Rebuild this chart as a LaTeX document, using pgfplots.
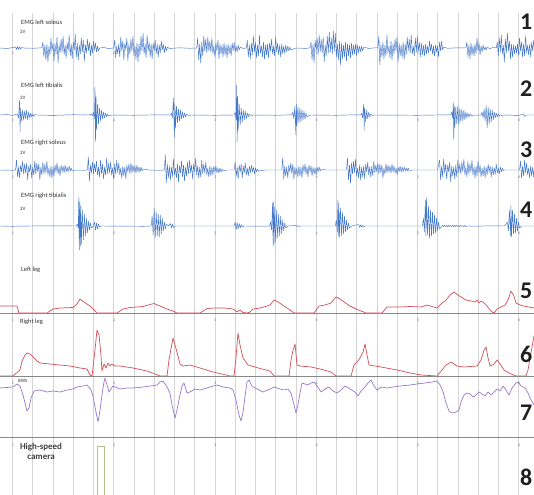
\documentclass[border=0pt]{standalone}
\usepackage{pgfplots}
\pgfplotsset{compat=1.18}
\usepackage{fontspec}
\setmainfont{Carlito}
\definecolor{emg}{RGB}{68,120,200}
\definecolor{legred}{RGB}{212,78,88}
\definecolor{bws}{RGB}{150,122,205}
\definecolor{cam}{RGB}{185,188,140}
\definecolor{sep}{RGB}{135,135,135}
\definecolor{gridc}{RGB}{212,212,212}
\tikzset{tln/.style={font=\fontsize{4}{4}\selectfont, text=black!55, inner sep=0pt},
  lab/.style={font=\fontsize{6.5}{7}\selectfont, text=black!80, anchor=west, inner sep=0pt},
  lab2/.style={font=\fontsize{5}{6}\selectfont, text=black!80, anchor=west, inner sep=0pt},
  big/.style={font=\fontsize{24}{24}\selectfont\bfseries, text=black!88, anchor=base west, inner sep=0pt}}
\newcommand{\tlrow}[1]{%
  \node[tln] at (axis cs:1.005,#1) {1};
  \node[tln] at (axis cs:2.005,#1) {2};
  \node[tln] at (axis cs:3.005,#1) {3};
  \node[tln] at (axis cs:4.005,#1) {4};
  \node[tln] at (axis cs:5.005,#1) {5};
  \node[tln] at (axis cs:6.005,#1) {6};}
\begin{document}
\begin{tikzpicture}
\begin{axis}[
  at={(0,0)}, anchor=south west,
  scale only axis, width=534bp, height=482bp,
  xmin=0.8765, xmax=6.153, ymin=13, ymax=495, y dir=reverse,
  axis line style={draw=none}, tick style={draw=none},
  xtick={1,2,3,4,5,6}, minor x tick num=4, xticklabels={}, ytick=\empty,
  xmajorgrids, xminorgrids,
  major grid style={gridc, line width=0.5bp},
  minor grid style={gridc, line width=0.5bp},
]
% ---------- EMG left soleus (panel 1) ----------
\addplot[emg, line width=0.45bp, line join=round] coordinates {
(0.876,48) (0.95,48.5) (1.03,47) (1.04,49.5) (1.05,46.5) (1.06,49.5) (1.07,46.8) (1.08,49) (1.09,47.5) (1.11,48) (1.20,48.3) (1.29,47.8)
(1.30,42) (1.31,57) (1.32,45) (1.33,60) (1.34,44) (1.35,62) (1.36,46) (1.37,55) (1.38,38) (1.39,51) (1.40,43) (1.41,61) (1.42,44) (1.43,54) (1.44,37) (1.45,63) (1.46,45) (1.47,53) (1.48,39) (1.49,52) (1.50,36) (1.51,55) (1.52,45) (1.53,58) (1.54,43) (1.55,51) (1.56,35) (1.57,56) (1.58,44) (1.59,59) (1.60,42) (1.61,50) (1.62,34) (1.63,57) (1.64,43) (1.65,60) (1.66,45) (1.67,54) (1.68,38) (1.69,52) (1.70,40) (1.71,61) (1.72,45) (1.73,53) (1.74,39) (1.75,51) (1.76,42) (1.77,56) (1.78,45) (1.79,53) (1.80,41) (1.81,50) (1.82,43) (1.83,52) (1.84,46) (1.85,51) (1.86,48)
(1.90,47.5) (1.95,48.5) (2.00,48)
(2.01,40) (2.02,58) (2.03,46) (2.04,54) (2.05,44) (2.06,57) (2.07,37) (2.08,51) (2.09,41) (2.10,60) (2.11,43) (2.12,50) (2.13,38) (2.14,61) (2.15,44) (2.16,54) (2.17,39) (2.18,51) (2.19,36) (2.20,56) (2.21,46) (2.22,59) (2.23,43) (2.24,62) (2.25,44) (2.26,55) (2.27,36) (2.28,51) (2.29,33) (2.30,54) (2.31,44) (2.32,58) (2.33,35) (2.34,51) (2.35,42) (2.36,57) (2.37,44) (2.38,59) (2.39,43) (2.40,51) (2.41,40) (2.42,54) (2.43,44) (2.44,57) (2.45,45) (2.46,53) (2.47,41) (2.48,50) (2.49,44) (2.50,53) (2.51,46) (2.52,51) (2.53,47)
(2.55,48.5) (2.65,47.8) (2.75,48.3) (2.82,48)
(2.83,38) (2.84,60) (2.85,44) (2.86,63) (2.87,42) (2.88,56) (2.89,36) (2.90,51) (2.91,39) (2.92,53) (2.93,37) (2.94,51) (2.95,41) (2.96,52) (2.97,38) (2.98,54) (2.99,46) (3.00,57) (3.01,43) (3.02,51) (3.03,40) (3.04,59) (3.05,44) (3.06,54) (3.07,45) (3.08,57) (3.09,43) (3.10,55) (3.11,45) (3.12,58) (3.13,44) (3.14,54) (3.15,46) (3.16,56) (3.17,43) (3.18,51) (3.19,42) (3.20,52) (3.21,46) (3.22,52) (3.23,45) (3.24,50) (3.25,47)
(3.28,48.5) (3.31,48)
(3.32,40) (3.33,57) (3.34,45) (3.35,59) (3.36,43) (3.37,55) (3.38,36) (3.39,52) (3.40,42) (3.41,58) (3.42,45) (3.43,56) (3.44,35) (3.45,53) (3.46,46) (3.47,57) (3.48,42) (3.49,59) (3.50,45) (3.51,55) (3.52,44) (3.53,58) (3.54,43) (3.55,51) (3.56,39) (3.57,54) (3.58,46) (3.59,56) (3.60,37) (3.61,52) (3.62,43) (3.63,55) (3.64,45) (3.65,57) (3.66,44) (3.67,54) (3.68,46) (3.69,53) (3.70,45) (3.71,52) (3.72,46) (3.73,51) (3.74,47) (3.75,50)
(3.80,48) (3.90,48.4) (3.94,47.8)
(3.95,42) (3.96,60) (3.97,44) (3.98,63) (3.99,40) (4.00,51) (4.01,38) (4.02,55) (4.03,35) (4.04,52) (4.05,39) (4.06,53) (4.07,37) (4.08,62) (4.09,45) (4.10,56) (4.11,36) (4.12,53) (4.13,32) (4.14,52) (4.15,38) (4.16,54) (4.17,31) (4.18,51) (4.19,33) (4.20,57) (4.21,44) (4.22,60) (4.23,41) (4.24,65) (4.25,43) (4.26,59) (4.27,45) (4.28,57) (4.29,42) (4.30,61) (4.31,44) (4.32,56) (4.33,45) (4.34,58) (4.35,43) (4.36,55) (4.37,45) (4.38,54) (4.39,44) (4.40,56) (4.41,45) (4.42,53) (4.43,46) (4.44,52) (4.45,46) (4.46,51) (4.47,47)
(4.52,48.5) (4.58,47.8) (4.61,48)
(4.62,36) (4.63,65) (4.64,44) (4.65,57) (4.66,42) (4.67,59) (4.68,45) (4.69,56) (4.70,35) (4.71,53) (4.72,46) (4.73,58) (4.74,41) (4.75,60) (4.76,44) (4.77,54) (4.78,39) (4.79,51) (4.80,37) (4.81,62) (4.82,43) (4.83,56) (4.84,45) (4.85,58) (4.86,42) (4.87,60) (4.88,44) (4.89,55) (4.90,37) (4.91,51) (4.92,39) (4.93,53) (4.94,35) (4.95,54) (4.96,46) (4.97,56) (4.98,38) (4.99,52) (5.00,36) (5.01,51) (5.02,42) (5.03,57) (5.04,43) (5.05,55) (5.06,45) (5.07,56) (5.08,44) (5.09,54) (5.10,46) (5.11,53) (5.12,41) (5.13,51) (5.14,44) (5.15,54) (5.16,46) (5.17,56) (5.18,45) (5.19,52) (5.20,46) (5.21,57) (5.22,42) (5.23,51) (5.24,41) (5.25,50) (5.26,47)
(5.30,48.3) (5.40,47.8) (5.48,48)
(5.49,42) (5.50,57) (5.51,45) (5.52,59) (5.53,43) (5.54,55) (5.55,46) (5.56,56) (5.57,44) (5.58,54) (5.59,38) (5.60,51) (5.61,43) (5.62,55) (5.63,46) (5.64,52) (5.65,45) (5.66,50) (5.67,47) (5.68,50) (5.69,47)
(5.72,49) (5.75,47) (5.78,48)
(5.79,42) (5.80,56) (5.81,38) (5.82,52) (5.83,35) (5.84,54) (5.85,45) (5.86,62) (5.87,39) (5.88,53) (5.89,33) (5.90,51) (5.91,41) (5.92,59) (5.93,44) (5.94,57) (5.95,45) (5.96,54) (5.97,46) (5.98,53) (5.99,44) (6.00,55) (6.01,38) (6.02,51) (6.03,42) (6.04,57) (6.05,44) (6.06,56) (6.07,36) (6.08,53) (6.09,45) (6.10,55) (6.11,44) (6.12,57) (6.13,42) (6.14,51) (6.15,40) (6.16,52)
};
% ---------- EMG left tibialis (panel 2) ----------
\addplot[emg, line width=0.45bp, line join=round] coordinates {
(0.876,115) (0.95,114.5) (1.00,115.5) (1.05,114) (1.06,118) (1.07,100) (1.075,132) (1.08,108) (1.09,121) (1.10,110) (1.11,120) (1.12,111) (1.13,119) (1.14,110) (1.15,120) (1.16,112) (1.17,118) (1.18,113) (1.19,117) (1.20,114) (1.21,116.5) (1.22,114.5) (1.24,115) (1.40,115.4) (1.60,114.7) (1.75,115) (1.78,114) (1.79,116)
(1.80,112) (1.81,119) (1.815,87) (1.82,142) (1.825,96) (1.83,130) (1.84,104) (1.85,124) (1.86,108) (1.87,121) (1.88,110) (1.89,119) (1.90,112) (1.91,118) (1.92,113) (1.93,117) (1.94,114) (1.95,116) (1.98,115) (2.20,115.3) (2.45,114.8) (2.56,115)
(2.57,113) (2.58,118) (2.59,98) (2.60,137) (2.605,104) (2.61,128) (2.62,106) (2.63,123) (2.64,109) (2.65,121) (2.66,110) (2.67,119) (2.68,112) (2.69,118) (2.70,113) (2.71,117) (2.72,114) (2.74,116) (2.76,115) (3.00,115.3) (3.19,115)
(3.20,112) (3.21,120) (3.215,85) (3.22,142) (3.225,96) (3.23,130) (3.24,104) (3.25,125) (3.26,108) (3.27,122) (3.28,110) (3.29,120) (3.30,111) (3.31,119) (3.32,113) (3.33,117) (3.34,114) (3.36,116) (3.38,115) (3.60,115.3) (3.76,114.8)
(3.77,112) (3.78,119) (3.79,106) (3.80,135) (3.805,104) (3.81,126) (3.82,107) (3.83,123) (3.84,108) (3.85,122) (3.86,110) (3.87,120) (3.88,111) (3.89,119) (3.90,113) (3.91,117) (3.93,115.5) (3.95,115) (4.20,115.3) (4.40,114.8) (4.44,115)
(4.45,113) (4.46,118) (4.47,104) (4.475,130) (4.48,108) (4.49,122) (4.50,110) (4.51,119) (4.52,112) (4.53,117) (4.54,114) (4.56,115.5) (4.58,115) (5.00,115.3) (5.30,114.8) (5.33,115)
(5.34,112) (5.35,118) (5.355,102) (5.36,140) (5.365,106) (5.37,128) (5.38,107) (5.39,124) (5.40,106) (5.41,125) (5.42,108) (5.43,122) (5.44,109) (5.45,121) (5.46,110) (5.47,120) (5.48,112) (5.49,118) (5.50,113) (5.51,117) (5.52,114) (5.54,116) (5.56,115) (5.63,115.2)
(5.64,112) (5.65,118) (5.66,109) (5.67,121) (5.68,105) (5.69,128) (5.70,107) (5.71,124) (5.72,109) (5.73,122) (5.74,110) (5.75,120) (5.76,112) (5.77,118) (5.78,113) (5.79,117) (5.80,114) (5.82,116) (5.85,115) (6.00,115.4) (6.05,114) (6.06,116.5) (6.08,115) (6.153,115)
};
% ---------- EMG right soleus (panel 3) ----------
\addplot[emg, line width=0.45bp, line join=round] coordinates {
(0.876,170) (1.00,170.3) (1.03,170)
(1.04,160) (1.05,177) (1.06,167) (1.07,178) (1.08,165) (1.09,172) (1.10,161) (1.11,174) (1.12,164) (1.13,173) (1.14,163) (1.15,180) (1.16,166) (1.17,172) (1.18,164) (1.19,178) (1.20,167) (1.21,175) (1.22,161) (1.23,174) (1.24,163) (1.25,172) (1.26,164) (1.27,180) (1.28,167) (1.29,175) (1.30,162) (1.31,174) (1.32,164) (1.33,173) (1.34,161) (1.35,175) (1.36,168) (1.37,177) (1.38,166) (1.39,178) (1.40,167) (1.41,176) (1.42,165) (1.43,172) (1.44,163) (1.45,174) (1.46,167) (1.47,176) (1.48,165) (1.49,172) (1.50,166) (1.51,173) (1.52,165) (1.53,172) (1.54,167) (1.55,172) (1.56,166) (1.57,171) (1.58,168) (1.59,171)
(1.62,170) (1.70,170.3) (1.74,170)
(1.75,157) (1.76,181) (1.77,165) (1.78,173) (1.79,162) (1.80,174) (1.81,164) (1.82,172) (1.83,161) (1.84,175) (1.85,167) (1.86,177) (1.87,160) (1.88,174) (1.89,164) (1.90,179) (1.91,167) (1.92,175) (1.93,158) (1.94,174) (1.95,163) (1.96,173) (1.97,162) (1.98,175) (1.99,168) (2.00,179) (2.01,164) (2.02,174) (2.03,160) (2.04,173) (2.05,163) (2.06,175) (2.07,168) (2.08,178) (2.09,166) (2.10,176) (2.11,167) (2.12,179) (2.13,165) (2.14,172) (2.15,164) (2.16,174) (2.17,163) (2.18,173) (2.19,165) (2.20,172) (2.21,166) (2.22,173) (2.23,165) (2.24,172) (2.25,167) (2.26,172) (2.27,167) (2.28,171) (2.29,169)
(2.35,170) (2.45,170.3) (2.50,170)
(2.51,155) (2.52,183) (2.53,164) (2.54,178) (2.55,166) (2.56,180) (2.57,167) (2.58,177) (2.59,159) (2.60,175) (2.61,168) (2.62,178) (2.63,164) (2.64,182) (2.65,166) (2.66,173) (2.67,161) (2.68,177) (2.69,165) (2.70,181) (2.71,167) (2.72,176) (2.73,162) (2.74,174) (2.75,160) (2.76,173) (2.77,165) (2.78,179) (2.79,164) (2.80,172) (2.81,158) (2.82,175) (2.83,166) (2.84,178) (2.85,167) (2.86,177) (2.87,160) (2.88,174) (2.89,164) (2.90,173) (2.91,162) (2.92,175) (2.93,168) (2.94,177) (2.95,166) (2.96,176) (2.97,167) (2.98,175) (2.99,166) (3.00,172) (3.01,166) (3.02,173) (3.03,168) (3.04,173) (3.05,168) (3.06,172) (3.07,169) (3.08,171)
(3.12,170) (3.19,170)
(3.20,162) (3.21,177) (3.22,167) (3.23,179) (3.24,165) (3.25,172) (3.26,164) (3.27,178) (3.28,166) (3.29,173) (3.30,163) (3.31,175) (3.32,168) (3.33,176) (3.34,166) (3.35,173) (3.36,165) (3.37,172) (3.38,167) (3.39,174) (3.40,168) (3.41,172) (3.42,169) (3.43,171)
(3.50,170) (3.66,170)
(3.67,158) (3.68,179) (3.69,166) (3.70,176) (3.71,167) (3.72,178) (3.73,165) (3.74,172) (3.75,163) (3.76,174) (3.77,164) (3.78,179) (3.79,167) (3.80,175) (3.81,168) (3.82,177) (3.83,166) (3.84,176) (3.85,167) (3.86,178) (3.87,165) (3.88,172) (3.89,164) (3.90,174) (3.91,167) (3.92,177) (3.93,165) (3.94,172) (3.95,166) (3.96,176) (3.97,167) (3.98,174) (3.99,168) (4.00,175) (4.01,167) (4.02,172) (4.03,167) (4.04,171) (4.05,169)
(4.10,170) (4.30,170)
(4.31,158) (4.32,180) (4.33,165) (4.34,183) (4.35,163) (4.36,174) (4.37,161) (4.38,173) (4.39,159) (4.40,176) (4.41,168) (4.42,178) (4.43,165) (4.44,180) (4.45,167) (4.46,177) (4.47,166) (4.48,179) (4.49,164) (4.50,172) (4.51,162) (4.52,175) (4.53,167) (4.54,177) (4.55,166) (4.56,176) (4.57,161) (4.58,173) (4.59,165) (4.60,172) (4.61,163) (4.62,174) (4.63,164) (4.64,173) (4.65,165) (4.66,178) (4.67,168) (4.68,174) (4.69,164) (4.70,173) (4.71,165) (4.72,172) (4.73,166) (4.74,173) (4.75,164) (4.76,172) (4.77,166) (4.78,173) (4.79,168) (4.80,175) (4.81,167) (4.82,172) (4.83,166) (4.84,172) (4.85,167) (4.86,172) (4.87,167) (4.88,171) (4.89,168) (4.90,171) (4.91,168) (4.92,171)
(4.95,170) (5.20,170)
(5.22,160) (5.23,180) (5.24,166) (5.25,177) (5.26,159) (5.27,173) (5.28,164) (5.29,179) (5.30,165) (5.31,172) (5.32,162) (5.33,182) (5.34,166) (5.35,176) (5.36,167) (5.37,179) (5.38,165) (5.39,177) (5.40,160) (5.41,173) (5.42,164) (5.43,174) (5.44,162) (5.45,172) (5.46,159) (5.47,175) (5.48,167) (5.49,177) (5.50,161) (5.51,174) (5.52,164) (5.53,172) (5.54,160) (5.55,175) (5.56,167) (5.57,178) (5.58,166) (5.59,176) (5.60,161) (5.61,173) (5.62,165) (5.63,177) (5.64,168) (5.65,176) (5.66,166) (5.67,178) (5.68,167) (5.69,175) (5.70,164) (5.71,172) (5.72,166) (5.73,177) (5.74,167) (5.75,175) (5.76,168) (5.77,174) (5.78,164) (5.79,173) (5.80,168) (5.81,174) (5.82,167) (5.83,172) (5.84,168) (5.85,171) (5.86,170)
(5.95,170) (6.01,170)
(6.02,161) (6.03,178) (6.04,166) (6.05,176) (6.06,160) (6.07,173) (6.08,163) (6.09,175) (6.10,168) (6.11,178) (6.12,166) (6.13,176) (6.14,167) (6.15,177) (6.16,165)
};
% ---------- EMG right tibialis (panel 4) ----------
\addplot[emg, line width=0.45bp, line join=round] coordinates {
(0.876,226) (1.00,226.3) (1.30,225.8) (1.63,226)
(1.64,224) (1.65,228) (1.655,197) (1.66,250) (1.665,202) (1.67,246) (1.675,206) (1.68,244) (1.69,210) (1.70,240) (1.71,214) (1.72,236) (1.73,218) (1.74,233) (1.75,221) (1.76,230) (1.77,223) (1.78,228) (1.80,226)
(1.81,222) (1.82,230) (1.83,223) (1.84,229) (1.85,224) (1.86,227) (1.88,226) (2.30,226.3) (2.37,226)
(2.38,216) (2.39,235) (2.40,208) (2.41,238) (2.42,212) (2.43,236) (2.44,214) (2.45,237) (2.46,215) (2.47,234) (2.48,218) (2.49,231) (2.50,222) (2.51,229) (2.52,224) (2.54,226)
(2.56,223.5) (2.57,228) (2.58,224) (2.59,227.5) (2.61,226) (3.19,226)
(3.20,222) (3.21,230) (3.22,222.5) (3.23,229) (3.24,223.5) (3.25,228) (3.26,224.5) (3.27,227) (3.29,226) (3.54,226.2)
(3.55,222) (3.56,230) (3.57,203) (3.575,246) (3.58,202) (3.585,244) (3.59,207) (3.60,242) (3.61,210) (3.62,238) (3.63,214) (3.64,236) (3.65,216) (3.66,234) (3.67,220) (3.68,231) (3.69,223) (3.70,228) (3.72,226)
(3.80,225.5) (3.81,226.5) (3.82,225.6) (3.83,226.4) (3.85,226) (4.19,226)
(4.20,220) (4.21,232) (4.215,200) (4.22,236) (4.225,203) (4.23,237) (4.24,208) (4.25,236) (4.26,212) (4.27,234) (4.28,216) (4.29,232) (4.30,220) (4.31,230) (4.32,223) (4.33,228) (4.35,226)
(4.42,224.5) (4.43,227.5) (4.44,224.8) (4.45,227) (4.46,225.3) (4.47,226.6) (4.49,226) (5.05,226)
(5.06,218) (5.07,232) (5.08,200) (5.085,236) (5.09,198) (5.10,235) (5.11,206) (5.12,238) (5.13,210) (5.14,236) (5.15,212) (5.16,234) (5.17,215) (5.18,233) (5.19,218) (5.20,231) (5.21,222) (5.22,229) (5.24,226)
(5.25,225.4) (5.26,226.7) (5.27,225.3) (5.28,226.6) (5.29,225.4) (5.30,226.7) (5.31,225.3) (5.32,226.6) (5.33,225.5) (5.34,226.5) (5.35,225.4) (5.36,226.6) (5.37,225.3) (5.38,226.7) (5.39,225.4) (5.40,226.5) (5.41,225.5) (5.42,226.6) (5.43,225.4) (5.44,226.5) (5.45,225.5) (5.46,226.6) (5.47,225.4) (5.48,226.5) (5.50,226) (5.60,226.2) (5.70,225.8) (5.86,226)
(5.89,222) (5.90,231) (5.91,210) (5.92,236) (5.925,205) (5.93,237) (5.94,210) (5.95,234) (5.96,214) (5.97,233) (5.98,218) (5.99,231) (6.00,222) (6.01,228) (6.03,226) (6.153,226)
};
% ---------- Left leg (panel 5) ----------
\addplot[legred, line width=0.7bp, line join=round] coordinates {
(0.876,306) (1.005,306) (1.044,306) (1.064,313) (1.341,313) (1.400,309) (1.469,308) (1.598,307.5) (1.637,304) (1.667,299) (1.706,302) (1.766,306) (1.835,313) (2.033,313) (2.092,309) (2.161,307.5) (2.290,306.5) (2.359,304.5) (2.398,303.5) (2.457,306) (2.527,309) (2.586,311) (2.625,313) (2.853,313) (2.922,308.5) (3.001,308) (3.100,308) (3.179,309) (3.218,312) (3.248,310) (3.278,312.5) (3.317,313) (3.347,312) (3.376,309) (3.446,308) (3.515,306) (3.545,305) (3.584,300) (3.624,302) (3.683,306) (3.742,310) (3.782,313) (3.979,313) (4.029,306) (4.088,305) (4.147,303) (4.197,297) (4.236,299) (4.276,302) (4.335,306) (4.394,309) (4.444,311) (4.494,313) (4.651,313) (4.701,307) (4.830,307) (4.929,306.5) (5.037,307) (5.096,305) (5.146,306.5) (5.195,308) (5.245,303) (5.284,300) (5.323,295) (5.363,292) (5.402,295) (5.432,297) (5.481,300) (5.531,301) (5.570,302) (5.590,300) (5.610,303) (5.630,301) (5.659,303) (5.689,306) (5.719,310) (5.738,312) (5.758,313) (5.788,309) (5.827,307) (5.867,305) (5.896,300) (5.926,291) (5.955,296) (5.975,303) (6.015,305) (6.045,306) (6.104,307) (6.153,308)
};
% ---------- Right leg (panel 6) ----------
\addplot[legred, line width=0.7bp, line join=round] coordinates {
(0.876,376) (1.005,376) (1.074,370) (1.094,361) (1.124,355) (1.143,353) (1.173,354) (1.203,357) (1.242,361) (1.272,363) (1.371,364) (1.469,365) (1.568,366) (1.667,368) (1.736,369) (1.766,375) (1.786,376) (1.815,350) (1.835,330) (1.855,335) (1.874,355) (1.884,371) (1.904,364) (1.924,368) (1.944,363) (1.963,366) (1.983,364) (2.013,366) (2.062,366) (2.191,368) (2.329,371) (2.408,374) (2.457,376) (2.527,376) (2.546,360) (2.586,338) (2.625,352) (2.655,364) (2.685,366) (2.754,365) (2.853,368) (2.981,372) (3.070,374) (3.149,376) (3.189,376) (3.208,358) (3.228,333) (3.248,345) (3.278,358) (3.327,365) (3.396,367) (3.465,369) (3.545,371) (3.584,376) (3.733,376) (3.752,360) (3.772,350) (3.792,344) (3.811,365) (3.841,366) (3.950,367) (4.039,369) (4.147,372) (4.197,376) (4.345,376) (4.374,365) (4.404,362) (4.434,358) (4.464,352) (4.484,344) (4.503,355) (4.523,365) (4.583,366) (4.642,367) (4.800,370) (4.929,373) (5.037,375) (5.195,376) (5.235,371) (5.284,365) (5.333,362) (5.392,366) (5.461,367) (5.521,366.5) (5.590,366) (5.630,360) (5.659,350) (5.679,347) (5.699,358) (5.719,366) (5.758,364) (5.788,360) (5.817,364) (5.857,370) (5.926,374) (5.975,376) (6.074,376) (6.094,370) (6.114,358) (6.153,336)
};
% ---------- BWS (panel 7) ----------
\addplot[bws, line width=0.7bp, line join=round] coordinates {
(0.876,388) (1.005,387) (1.044,384) (1.074,386) (1.104,395) (1.124,403) (1.143,411) (1.163,408) (1.183,398) (1.213,391) (1.272,390) (1.341,392) (1.400,391) (1.469,392) (1.539,390) (1.598,389) (1.637,387) (1.697,386) (1.736,385) (1.776,390) (1.795,396) (1.825,412) (1.845,422) (1.865,410) (1.884,395) (1.904,382) (1.914,378) (1.934,385) (1.953,392) (1.993,386) (2.062,389) (2.131,388) (2.191,388) (2.290,387) (2.359,386) (2.428,385) (2.457,382) (2.487,381) (2.527,387) (2.556,393) (2.576,405) (2.606,418) (2.625,410) (2.655,395) (2.675,386) (2.695,383) (2.724,393) (2.754,392) (2.803,389) (2.853,390) (2.922,388) (2.981,386) (3.021,385) (3.080,387) (3.149,388) (3.179,390) (3.208,400) (3.238,415) (3.258,421) (3.278,412) (3.297,397) (3.317,382) (3.337,380) (3.366,386) (3.416,389) (3.475,392) (3.545,389) (3.584,387) (3.643,389) (3.683,390) (3.722,389) (3.752,393) (3.782,405) (3.801,413) (3.821,405) (3.841,393) (3.861,383) (3.891,384) (3.920,385) (3.950,383) (3.979,382) (4.009,386) (4.049,392) (4.088,389) (4.127,387) (4.167,391) (4.207,393) (4.246,390) (4.286,386) (4.335,389) (4.384,392) (4.414,396) (4.444,391) (4.474,388) (4.513,383) (4.543,380) (4.573,386) (4.602,390) (4.642,387) (4.701,388) (4.760,387) (4.830,386) (4.929,385) (4.997,384) (5.076,383) (5.146,382) (5.195,381) (5.225,385) (5.255,392) (5.284,403) (5.313,411) (5.343,413) (5.383,412) (5.412,410) (5.432,402) (5.461,395) (5.491,393) (5.521,394) (5.550,397) (5.580,395) (5.610,392) (5.640,394) (5.669,396) (5.699,392) (5.728,395) (5.758,392) (5.788,389) (5.817,391) (5.847,386) (5.877,390) (5.906,395) (5.936,388) (5.975,383) (5.995,382) (6.025,386) (6.065,388) (6.094,393) (6.114,398) (6.153,405)
};
% ---------- separators ----------
\addplot[sep, line width=0.7bp] coordinates {(0.8765,313) (6.153,313)};
\addplot[sep, line width=0.7bp] coordinates {(0.8765,376) (6.153,376)};
\addplot[sep, line width=0.7bp] coordinates {(0.8765,437) (6.153,437)};
% ---------- high-speed camera ----------
\addplot[cam, line width=0.7bp] coordinates {(1.835,497) (1.835,446) (1.904,446) (1.904,497)};
% ---------- labels ----------
\node[lab] at (axis cs:1.084,22) {EMG left soleus};
\node[lab2] at (axis cs:1.074,31.5) {2V};
\node[lab] at (axis cs:1.084,85) {EMG left tibialis};
\node[lab2] at (axis cs:1.074,98) {2V};
\node[lab] at (axis cs:1.084,143) {EMG right soleus};
\node[lab2] at (axis cs:1.074,153) {2V};
\node[lab] at (axis cs:1.084,196) {EMG right tibialis};
\node[lab2] at (axis cs:1.074,209) {2V};
\node[lab] at (axis cs:1.084,270) {Left leg};
\node[lab] at (axis cs:1.074,322) {Right leg};
\node[lab2] at (axis cs:1.054,381) {BWS};
\node[font=\fontsize{9}{10}\selectfont\bfseries, text=black!75, align=center, inner sep=0pt, anchor=north] at (axis cs:1.282,443) {High-speed\\camera};
\tlrow{53}
\tlrow{120}
\tlrow{177}
\tlrow{233}
\tlrow{320}
\tlrow{383}
\tlrow{445}
\node[big] at (axis cs:6.015,30) {1};
\node[big] at (axis cs:6.015,97) {2};
\node[big] at (axis cs:6.015,157) {3};
\node[big] at (axis cs:6.015,217) {4};
\node[big] at (axis cs:6.015,298) {5};
\node[big] at (axis cs:6.015,362) {6};
\node[big] at (axis cs:6.015,420) {7};
\node[big] at (axis cs:6.015,485) {8};
\end{axis}
\pgfresetboundingbox
\useasboundingbox (0,0) rectangle (534bp,495bp);
\end{tikzpicture}
\end{document}
